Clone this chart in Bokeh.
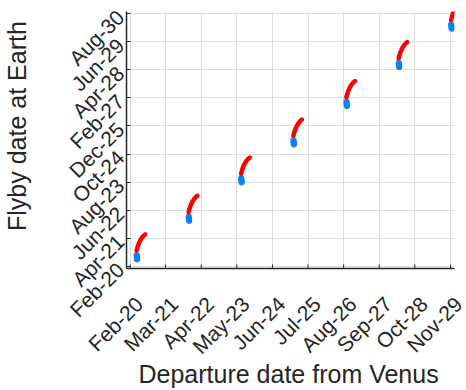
import pandas as pd
from math import pi
from bokeh.plotting import figure
from bokeh.models import Range1d, FixedTicker, BoxAnnotation, Title
from bokeh.embed import file_html
from bokeh.resources import INLINE

EPOCH = pd.Timestamp("2020-01-01")

# Venus departure / Earth flyby for each launch window, in days after 2020-01-01
feasible_depart = [
    [103, 113, 125, 141, 161, 181, 199],
    [681, 690, 703, 719, 739, 760, 778],
    [1264, 1274, 1286, 1302, 1322, 1342, 1361],
    [1845, 1855, 1867, 1884, 1904, 1923, 1941],
    [2434, 2444, 2456, 2472, 2492, 2513, 2530],
    [3015, 3025, 3037, 3053, 3073, 3093, 3111],
    [3598, 3608, 3620, 3636, 3656, 3676, 3694],
]
feasible_flyby = [
    [266, 316, 366, 416, 461, 494, 514],
    [850, 901, 951, 1000, 1046, 1079, 1100],
    [1434, 1483, 1534, 1584, 1628, 1661, 1682],
    [2011, 2062, 2111, 2161, 2206, 2240, 2259],
    [2595, 2644, 2695, 2745, 2789, 2823, 2843],
    [3187, 3237, 3287, 3336, 3382, 3415, 3435],
    [3771, 3821, 3871, 3921, 3966, 3999, 4019],
]

# Highlighted solutions at the opening of each window
optimal_depart = [
    [105, 107, 109],
    [683, 685, 687],
    [1266, 1268, 1270],
    [1847, 1849, 1851],
    [2436, 2438, 2440],
    [3017, 3019, 3021],
    [3600, 3602, 3604],
]
optimal_flyby = [
    [196, 166, 136],
    [782, 752, 722],
    [1366, 1336, 1306],
    [1943, 1912, 1882],
    [2527, 2497, 2466],
    [3118, 3088, 3057],
    [3703, 3672, 3640],
]

# Axis tick dates
x_tick_dates = ["2020-02-01", "2021-03-01", "2022-04-01", "2023-05-01", "2024-06-01",
                "2025-07-01", "2026-08-01", "2027-09-01", "2028-10-01", "2029-11-01"]
y_tick_dates = ["2020-02-01", "2021-04-01", "2022-06-01", "2023-08-01", "2024-10-01",
                "2025-12-01", "2027-02-01", "2028-04-01", "2029-06-01", "2030-08-01"]


def to_days(dates):
    return [float((pd.Timestamp(d) - EPOCH).days) for d in dates]


def to_labels(dates):
    return [pd.Timestamp(d).strftime("%b-%y") for d in dates]


INK = "#262626"
FONT = "Liberation Sans"
GRID = "#dedede"

# Axes box: data limits and their pixel size
X0, X_END = -9, 3636          # visible departure span
Y0, Y1 = -4, 3900
AXES_W, AXES_H = 328, 257
PAD_R = 12                    # blank strip right of the axes, room for the last date label
px_x = (X_END - X0) / AXES_W  # days per pixel
px_y = (Y1 - Y0) / AXES_H
X1 = X_END + PAD_R * px_x

p = figure(frame_width=AXES_W + PAD_R, frame_height=AXES_H,
           output_backend="svg", toolbar_location=None,
           x_range=Range1d(X0, X1), y_range=Range1d(Y0, Y1),
           min_border_left=126, min_border_right=0,
           min_border_top=11, min_border_bottom=122)
p.outline_line_color = None
p.background_fill_color = "white"
p.border_fill_color = "white"

xt = to_days(x_tick_dates)
yt = to_days(y_tick_dates)

# grid lines at the real tick dates
p.xgrid.ticker = FixedTicker(ticks=xt)
for g in (p.xgrid, p.ygrid):
    g.grid_line_color = GRID
    g.grid_line_width = 1

for dep, fly in zip(optimal_depart, optimal_flyby):
    p.scatter(dep, fly, size=5.5, marker="circle",
              fill_color="#0a80ff", line_color="#0a80ff")

for dep, fly in zip(feasible_depart, feasible_flyby):
    p.line(dep, fly, line_color="#ff0000", line_width=4.5,
           line_cap="round", line_join="round")

# inward tick marks on the departure axis
tick_len = 4 * px_y
p.segment(x0=xt, y0=[Y0] * len(xt), x1=xt, y1=[Y0 + tick_len] * len(xt),
          line_color=INK, line_width=1)

# blank the strip beyond the axes' right edge
p.add_layout(BoxAnnotation(left=X_END, fill_color="white", fill_alpha=1,
                           line_color=None))

# departure labels sit down and to the right of their ticks
label_shift = 9 * px_x
xlab_pos = [t + label_shift for t in xt]
xax = p.xaxis[0]
xax.ticker = FixedTicker(ticks=xlab_pos)
xax.major_label_overrides = dict(zip(xlab_pos, to_labels(x_tick_dates)))
xax.bounds = (X0, X_END)
xax.major_tick_line_color = None
xax.major_label_standoff = 26

yax = p.yaxis[0]
yax.ticker = FixedTicker(ticks=yt)
yax.major_label_overrides = dict(zip(yt, to_labels(y_tick_dates)))
yax.major_tick_line_color = INK
yax.major_tick_in = 4
yax.major_tick_out = 0
yax.major_label_standoff = 6

for ax in (xax, yax):
    ax.axis_line_color = INK
    ax.axis_line_width = 1.5
    ax.minor_tick_line_color = None
    ax.major_label_orientation = pi / 4
    ax.major_label_text_font = FONT
    ax.major_label_text_font_size = "21px"
    ax.major_label_text_color = INK

title_style = dict(text_font=FONT, text_font_size="25px", text_font_style="normal",
                   text_color=INK)

# vertical axis title; the no-break spaces lift it slightly above the axis centre
yax.axis_label = "\u00a0\u00a0\u00a0\u00a0Flyby date at Earth"
yax.axis_label_standoff = 22
yax.axis_label_text_font = FONT
yax.axis_label_text_font_size = "25px"
yax.axis_label_text_font_style = "normal"
yax.axis_label_text_color = INK

p.add_layout(Title(text="Departure date from Venus", align="left", offset=12,
                   vertical_align="top", standoff=-20, **title_style), "below")

open("out.html", "w").write(file_html(p, INLINE))
